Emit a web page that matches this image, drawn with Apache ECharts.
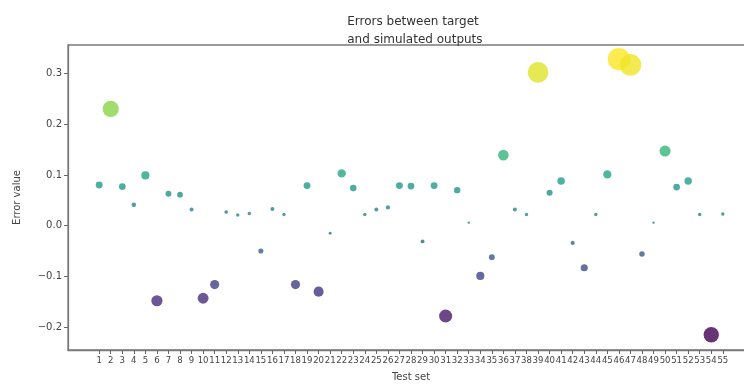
<!DOCTYPE html>
<html>
<head>
<meta charset="utf-8">
<script src="https://cdn.jsdelivr.net/npm/echarts@6/dist/echarts.min.js"></script>
<style>html,body{margin:0;padding:0;background:#fff;}#chart{width:744px;height:384px;}</style>
</head>
<body>
<div id="chart"></div>
<script>
const testSet = [1,2,3,4,5,6,7,8,9,10,11,12,13,14,15,16,17,18,19,20,21,22,23,24,25,26,27,28,29,30,31,32,33,34,35,36,37,38,39,40,41,42,43,44,45,46,47,48,49,50,51,52,53,54,55];
const errorValues = [0.080,0.230,0.077,0.041,0.099,-0.148,0.063,0.061,0.032,-0.143,
  -0.116,0.027,0.021,0.024,-0.050,0.033,0.022,-0.116,0.079,-0.130,
  -0.015,0.103,0.074,0.022,0.032,0.036,0.079,0.078,-0.031,0.079,
  -0.178,0.070,0.006,-0.099,-0.062,0.139,0.032,0.022,0.302,0.065,
  0.088,-0.034,-0.083,0.022,0.101,0.328,0.317,-0.056,0.006,0.147,
  0.076,0.088,0.022,-0.215,0.023];
const yTicks = [-0.2,-0.1,0.0,0.1,0.2,0.3];

const viridis = ['#440154','#482878','#3e4989','#31688e','#26828e','#1f9e89','#35b779','#6ece58','#b5de2b','#fde725'];
const points = testSet.map((t,i)=>[t, errorValues[i]]);
const chart = echarts.init(document.getElementById('chart'), null, {renderer:'canvas'});
const font = 'DejaVu Sans';
chart.setOption({
  animation:false,
  title:{
    text:'Errors between target\n and simulated outputs',
    left:408, top:8, textAlign:'center',
    textStyle:{fontFamily:font, fontSize:12, fontWeight:'normal', color:'#333', lineHeight:18}
  },
  grid:{left:68, top:45, width:686, height:305, show:true, borderColor:'#7a7a7a', borderWidth:1.3, containLabel:false, outerBoundsMode:'none'},
  visualMap:{show:false, type:'continuous', dimension:1, min:Math.min(...errorValues), max:Math.max(...errorValues), inRange:{color:viridis}},
  xAxis:{
    type:'value', min:-1.7, max:57.7,
    name:'Test set', nameLocation:'middle', nameGap:22,
    nameTextStyle:{fontFamily:font, fontSize:10, color:'#444'},
    axisLine:{show:true, onZero:false, lineStyle:{color:'#7a7a7a', width:1.3}},
    axisTick:{show:true, length:4, customValues:testSet, lineStyle:{color:'#666'}},
    axisLabel:{customValues:testSet, fontFamily:'"DejaVu Sans Condensed", "Liberation Sans Narrow", "DejaVu Sans"', fontSize:9.5, color:'#444', margin:6, hideOverlap:false, showMinLabel:true, showMaxLabel:true},
    splitLine:{show:false}
  },
  yAxis:{
    type:'value', min:-0.245, max:0.356,
    name:'Error value', nameLocation:'middle', nameGap:46, nameRotate:90,
    nameTextStyle:{fontFamily:font, fontSize:10, color:'#444'},
    axisLine:{show:true, onZero:false, lineStyle:{color:'#7a7a7a', width:1.3}},
    axisTick:{show:true, length:4, customValues:yTicks, lineStyle:{color:'#666'}},
    axisLabel:{customValues:yTicks, fontFamily:font, fontSize:10, color:'#444', margin:6,
      formatter:v=>v.toFixed(1).replace('-','\u2212')},
    splitLine:{show:false}
  },
  series:[{
    type:'scatter',
    data:points,
    symbolSize:d=>62*Math.abs(d[1])+2,
    itemStyle:{opacity:0.8}
  }]
});
</script>
</body>
</html>
